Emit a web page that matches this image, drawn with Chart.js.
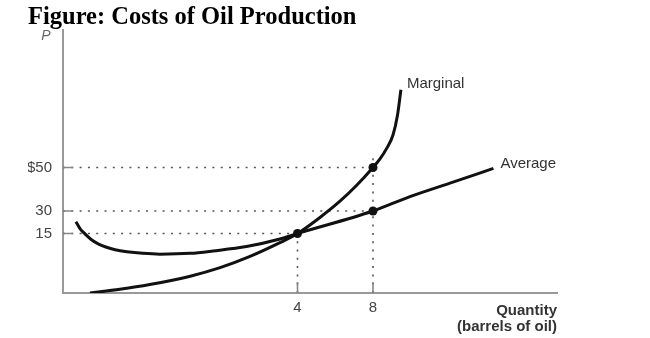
<!DOCTYPE html>
<html lang="en">
<head>
<meta charset="UTF-8">
<title>Costs of Oil Production</title>
<script src="https://cdn.jsdelivr.net/npm/chart.js"></script>
<style>
  body { margin: 0; background: #fff; }
</style>
</head>
<body>
<canvas id="oilCostChart" width="650" height="338"></canvas>
<script>
// Marginal cost curve: quantity (barrels) and price
const marginalQty  = [0.46, 0.97, 1.48, 2.17, 2.68, 3.18, 3.70, 4, 5.19, 6.25, 7.15, 8, 8.37, 8.74, 9.06, 9.30, 9.48];
const marginalCost = [0, 0.93, 2.12, 4.23, 6.38, 9.15, 12.68, 15, 25.7, 34.5, 41.95, 50, 53.9, 59.0, 64.9, 74.1, 85.6];

// Average cost curve
const averageQty  = [0.22, 0.29, 0.375, 0.48, 0.60, 0.73, 0.89, 1.09, 1.36, 1.65, 2.17, 2.56, 3.13, 3.70, 4, 8, 9.96, 12.08, 14.38];
const averageCost = [22.9, 18.3, 14.9, 13.5, 12.4, 11.6, 10.9, 10.4, 10.0, 9.8, 10.0, 10.6, 11.7, 13.6, 15, 30, 36.6, 42.8, 49.6];

const dotQty  = [4, 8, 8];
const dotCost = [15, 30, 50];

// Vertical dotted guides (the one at 8 runs a little past $50)
const vGuideQty = [4, 8];
const vGuideTop = [15, 56];

// Axis ticks
const xTickValues = [4, 8];
const yTickValues = [15, 30, 50];
const yTickLabels = ['15', '30', '$50'];

const toPoints = (xs, ys) => xs.map((x, i) => ({ x: x, y: ys[i] }));

// Linear scale with break points: each segment between two stops
// gets its own share of the axis length.
class PiecewiseScale extends Chart.LinearScale {
  toDecimal(v) {
    const s = this.options.stops, f = this.options.fracs;
    let i = 1;
    while (i < s.length - 1 && v > s[i]) i++;
    return f[i - 1] + (v - s[i - 1]) / (s[i] - s[i - 1]) * (f[i] - f[i - 1]);
  }
  fromDecimal(d) {
    const s = this.options.stops, f = this.options.fracs;
    let i = 1;
    while (i < f.length - 1 && d > f[i]) i++;
    return s[i - 1] + (d - f[i - 1]) / (f[i] - f[i - 1]) * (s[i] - s[i - 1]);
  }
  getPixelForValue(value) {
    if (value === null || value === undefined || isNaN(value)) return NaN;
    return this.getPixelForDecimal(this.toDecimal(value));
  }
  getValueForPixel(pixel) {
    return this.fromDecimal(this.getDecimalForPixel(pixel));
  }
}
PiecewiseScale.id = 'piecewise';
PiecewiseScale.defaults = Chart.LinearScale.defaults;
Chart.register(PiecewiseScale);

const sans = '"Liberation Sans", Arial, Helvetica, sans-serif';

const guideStyle = {
  borderColor: '#555',
  borderWidth: 1.6,
  borderDash: [2, 6.3],
  pointRadius: 0,
  order: 3
};

const guides = [
  ...dotQty.map((q, i) => ({ ...guideStyle, data: [{ x: 0, y: dotCost[i] }, { x: q, y: dotCost[i] }] })),
  ...vGuideQty.map((q, i) => ({ ...guideStyle, data: [{ x: q, y: 0 }, { x: q, y: vGuideTop[i] }] }))
];

// axis tick dashes, the "P" symbol and the curve names
const annotations = {
  id: 'annotations',
  afterDatasetsDraw(chart) {
    const { ctx, chartArea, scales: { x, y } } = chart;
    ctx.save();
    ctx.strokeStyle = '#888';
    ctx.lineWidth = 1.6;
    ctx.beginPath();
    yTickValues.forEach(v => {
      const py = y.getPixelForValue(v);
      ctx.moveTo(chartArea.left, py);
      ctx.lineTo(chartArea.left + 10, py);
    });
    xTickValues.forEach(v => {
      const px = x.getPixelForValue(v);
      ctx.moveTo(px, chartArea.bottom);
      ctx.lineTo(px, chartArea.bottom - 11);
    });
    ctx.stroke();

    ctx.fillStyle = '#666';
    ctx.font = 'italic 14px ' + sans;
    ctx.textAlign = 'center';
    ctx.textBaseline = 'middle';
    ctx.fillText('P', chartArea.left - 17, chartArea.top + 6);

    ctx.fillStyle = '#333';
    ctx.font = '15px ' + sans;
    ctx.textAlign = 'left';
    const mx = x.getPixelForValue(marginalQty[marginalQty.length - 1]);
    const my = y.getPixelForValue(marginalCost[marginalCost.length - 1]);
    ctx.fillText('Marginal', mx + 6, my - 6);
    const ax = x.getPixelForValue(averageQty[averageQty.length - 1]);
    const ay = y.getPixelForValue(averageCost[averageCost.length - 1]);
    ctx.fillText('Average', ax + 7, ay - 5);
    ctx.restore();
  }
};

new Chart(document.getElementById('oilCostChart'), {
  type: 'line',
  data: {
    datasets: [
      {
        type: 'scatter',
        data: toPoints(dotQty, dotCost),
        pointRadius: 4.5,
        pointBackgroundColor: '#111',
        pointBorderWidth: 0,
        order: 0
      },
      {
        data: toPoints(marginalQty, marginalCost),
        borderColor: '#111',
        borderWidth: 3,
        pointRadius: 0,
        cubicInterpolationMode: 'monotone',
        order: 1
      },
      {
        data: toPoints(averageQty, averageCost),
        borderColor: '#111',
        borderWidth: 3,
        pointRadius: 0,
        cubicInterpolationMode: 'monotone',
        order: 2
      },
      ...guides
    ]
  },
  options: {
    responsive: false,
    animation: false,
    events: [],
    layout: { padding: { left: 28, right: 93, top: 0, bottom: 0 } },
    scales: {
      x: {
        type: 'piecewise',
        min: 0,
        max: 17.75,
        stops: [0, 4, 17.75],
        fracs: [0, 0.4747, 1],
        grid: { display: false, drawTicks: false },
        border: { color: '#999', width: 2 },
        afterBuildTicks: scale => { scale.ticks = xTickValues.map(v => ({ value: v })); },
        afterFit: scale => { scale.height = 45; },
        ticks: {
          padding: 6,
          color: '#444',
          font: { family: sans, size: 15 },
          callback: value => String(value)
        },
        title: {
          display: true,
          text: ['Quantity', '(barrels of oil)'],
          align: 'end',
          color: '#333',
          font: { family: sans, size: 15, weight: 'bold', lineHeight: 16 / 15 },
          padding: { top: 0, bottom: 3 }
        }
      },
      y: {
        type: 'piecewise',
        min: 0,
        max: 113,
        stops: [0, 15, 30, 50, 113],
        fracs: [0, 0.2262, 0.3118, 0.4772, 1],
        grid: { display: false, drawTicks: false },
        border: { color: '#999', width: 2 },
        afterBuildTicks: scale => { scale.ticks = yTickValues.map(v => ({ value: v })); },
        afterFit: scale => { scale.width = 35; },
        ticks: {
          padding: 11,
          color: '#444',
          font: { family: sans, size: 15 },
          callback: value => yTickLabels[yTickValues.indexOf(value)]
        }
      }
    },
    plugins: {
      legend: { display: false },
      tooltip: { enabled: false },
      title: {
        display: true,
        text: 'Figure: Costs of Oil Production',
        align: 'start',
        color: '#000',
        font: { family: '"Liberation Serif", "Times New Roman", serif', size: 24.5, weight: 'bold', lineHeight: 1 },
        padding: { top: 5, bottom: 0.5 }
      }
    }
  },
  plugins: [annotations]
});
</script>
</body>
</html>
